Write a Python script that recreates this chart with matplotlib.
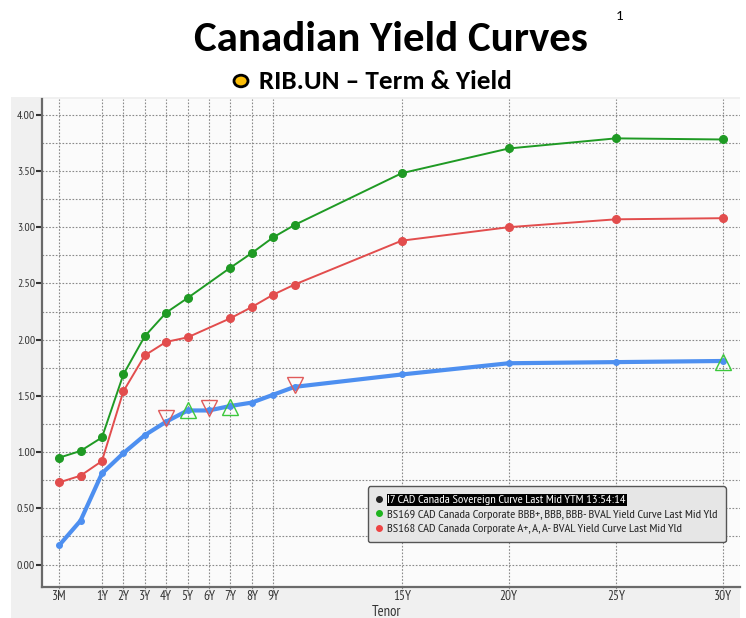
import numpy as np
import matplotlib
matplotlib.use("Agg")
import matplotlib.pyplot as plt
from matplotlib.patches import Rectangle, Circle
from matplotlib import font_manager
import matplotlib.transforms as mtransforms

# ---------------- data ----------------
tenor_years = [0.25, 0.5, 1, 2, 3, 4, 5, 7, 8, 9, 10, 15, 20, 25, 30]
bbb_yield = [0.95, 1.01, 1.13, 1.69, 2.03, 2.24, 2.37, 2.64, 2.77, 2.91, 3.02, 3.48, 3.70, 3.79, 3.78]
a_yield = [0.73, 0.79, 0.92, 1.54, 1.86, 1.98, 2.02, 2.19, 2.29, 2.40, 2.49, 2.88, 3.00, 3.07, 3.08]

sov_tenor = [0.25, 0.5, 1, 2, 3, 4, 5, 6, 7, 8, 9, 10, 15, 20, 25, 30]
sov_yield = [0.17, 0.39, 0.81, 0.99, 1.15, 1.27, 1.37, 1.37, 1.41, 1.44, 1.51, 1.58, 1.69, 1.79, 1.80, 1.81]

a_bond_tenor = [4, 6, 10]
a_bond_yield = [1.30, 1.39, 1.60]
bbb_bond_tenor = [5, 7, 30]
bbb_bond_yield = [1.37, 1.40, 1.80]

tick_years = [0.25, 1, 2, 3, 4, 5, 6, 7, 8, 9, 15, 20, 25, 30]
tick_labels = ['3M', '1Y', '2Y', '3Y', '4Y', '5Y', '6Y', '7Y', '8Y', '9Y', '15Y', '20Y', '25Y', '30Y']

legend_labels = ['I7 CAD Canada Sovereign Curve Last Mid YTM 13:54:14',
                 'BS169 CAD Canada Corporate BBB+, BBB, BBB- BVAL Yield Curve Last Mid Yld',
                 'BS168 CAD Canada Corporate A+, A, A- BVAL Yield Curve Last Mid Yld']

title = 'Canadian Yield Curves'
subtitle = 'RIB.UN \u2013 Term & Yield'

# ---------------- styling ----------------
GREEN = '#1f9a24'
RED = '#e24d4d'
BLUE = '#4d8ff0'

available = {f.name for f in font_manager.fontManager.ttflist}


def pick(prefs, default):
    for p in prefs:
        if p in available:
            return p
    return default


NARROW = pick(['PT Sans Narrow', 'Roboto Condensed', 'Fira Sans Condensed', 'Archivo Narrow',
               'IBM Plex Sans Condensed', 'Encode Sans Condensed', 'Barlow Semi Condensed',
               'Open Sans Condensed', 'Liberation Sans Narrow', 'Pragati Narrow'], 'DejaVu Sans')
TITLEF = pick(['Carlito', 'Calibri', 'Lato'], 'DejaVu Sans')
TICK_FONT = [NARROW, 'DejaVu Sans']
TITLE_FONT = [TITLEF, 'DejaVu Sans']


def fwd(t):
    t = np.asarray(t, dtype=float)
    return np.where(t < 1, np.log2(np.maximum(t, 1e-9)) + 1, t)


def inv(p):
    p = np.asarray(p, dtype=float)
    return np.where(p < 1, 2.0 ** (np.minimum(p, 1) - 1), p)


fig = plt.figure(figsize=(7.46, 6.18), dpi=100)
fig.patch.set_facecolor('white')
renderer = fig.canvas.get_renderer()


def fit_size(text, family, weight, target_px, base=10.0):
    t = fig.text(0, 0, text, fontsize=base, family=family, fontweight=weight)
    w = t.get_window_extent(renderer).width
    t.remove()
    return base * target_px / w


# gray chart panel
fig.patches.append(Rectangle((11 / 746, 0), (740 - 11) / 746, 1 - 97 / 618,
                             transform=fig.transFigure, facecolor='#f0f0f0',
                             edgecolor='none', zorder=-5))

ax = fig.add_axes([42 / 746, 1 - 587 / 618, (740 - 42) / 746, (587 - 99) / 618])
ax.set_zorder(2)
ax.set_facecolor('#fbfbfb')
ax.set_xscale('function', functions=(fwd, inv))
ax.set_xlim(2.0 ** (-2.8), 30.8)
ax.set_ylim(-0.2, 4.14)

# grid
ax.set_yticks(np.arange(0, 4.01, 0.5))
ax.set_yticks(np.arange(0.25, 4.01, 0.5), minor=True)
ax.set_yticklabels(['%.2f' % v for v in np.arange(0, 4.01, 0.5)])
ax.set_xticks(tick_years)
ax.set_xticklabels(tick_labels)
ax.xaxis.set_minor_locator(matplotlib.ticker.NullLocator())
ax.grid(True, which='major', axis='both', color='#8a8a8a', linestyle=(0, (1.5, 1.5)), linewidth=0.8)
ax.grid(True, which='minor', axis='y', color='#8a8a8a', linestyle=(0, (1.5, 1.5)), linewidth=0.8)
ax.set_axisbelow(True)

# extend vertical grid below axis
trans = mtransforms.blended_transform_factory(ax.transData, ax.transAxes)
for xv in tick_years:
    ax.plot([xv, xv], [0, -0.018], transform=trans, color='#8a8a8a',
            linestyle=(0, (1.5, 1.5)), linewidth=0.8, clip_on=False)

for s in ['top', 'right']:
    ax.spines[s].set_visible(False)
for s in ['left', 'bottom']:
    ax.spines[s].set_color('#6a6a6a')
    ax.spines[s].set_linewidth(1.6)

ytick_size = min(max(fit_size('4.00', TICK_FONT, 'normal', 18), 8.5), 10)
xtick_size = 9.5
ax.tick_params(axis='y', which='major', direction='out', length=4, width=1.5, color='#333333',
               labelsize=ytick_size, labelcolor='#333333', pad=1)
ax.tick_params(axis='y', which='minor', length=0)
ax.tick_params(axis='x', which='major', length=0, labelsize=xtick_size, labelcolor='#333333', pad=2.5)
for lab in ax.get_xticklabels() + ax.get_yticklabels():
    lab.set_family(TICK_FONT)

ax.set_xlabel('Tenor', fontsize=10.5, color='#333333', family=TICK_FONT)
ax.xaxis.set_label_coords((386 - 42) / 698, -(604.5 - 587) / 488)

# series
h_sov, = ax.plot(sov_tenor, sov_yield, color=BLUE, linewidth=3.0, marker='o',
                 markersize=4, zorder=4, solid_capstyle='round')
h_bbb, = ax.plot(tenor_years, bbb_yield, color=GREEN, linewidth=1.4, marker='o',
                 markersize=5.5, zorder=3)
h_a, = ax.plot(tenor_years, a_yield, color=RED, linewidth=1.4, marker='o',
               markersize=5.5, zorder=3)

ax.plot(a_bond_tenor, a_bond_yield, linestyle='none', marker='v', markersize=11,
        markerfacecolor='none', markeredgecolor='#e05a5a', markeredgewidth=1.0, zorder=5)
ax.plot(bbb_bond_tenor, bbb_bond_yield, linestyle='none', marker='^', markersize=11,
        markerfacecolor='none', markeredgecolor='#3cc83c', markeredgewidth=1.0, zorder=5)

# legend
leg_size = min(fit_size(legend_labels[1], TICK_FONT, 'normal', 331), 10.5)
hb = ax.plot([], [], linestyle='none', marker='o', markersize=4, color='#222222')[0]
hg = ax.plot([], [], linestyle='none', marker='o', markersize=4, color='#1fb41f')[0]
hr = ax.plot([], [], linestyle='none', marker='o', markersize=4, color='#ee4444')[0]
leg = ax.legend([hb, hg, hr], legend_labels, loc='lower left',
                bbox_to_anchor=(0.467, 0.092), prop={'family': TICK_FONT, 'size': leg_size},
                frameon=True, fancybox=True, facecolor='#e6e6e6', edgecolor='#555555',
                framealpha=1, handlelength=0.5, handletextpad=0.4, labelspacing=0.3,
                borderpad=0.65, borderaxespad=0)
leg.get_frame().set_linewidth(1.0)
t0 = leg.get_texts()[0]
t0.set_color('white')
t0.set_bbox(dict(facecolor='black', edgecolor='none', pad=0.5))
for t in leg.get_texts()[1:]:
    t.set_color('#222222')

# titles
title_size = fit_size(title, TITLE_FONT, 'bold', 393)
fig.text(391 / 746, 1 - 51 / 618, title, ha='center', va='baseline', fontsize=title_size,
         fontweight='bold', family=TITLE_FONT, color='black')
fig.text(620 / 746, 1 - 20 / 618, '1', ha='center', va='baseline', fontsize=11,
         family=TITLE_FONT, color='black')
sub_size = fit_size(subtitle, TITLE_FONT, 'bold', 252)
fig.text(259 / 746, 1 - 89 / 618, subtitle, ha='left', va='baseline', fontsize=sub_size,
         fontweight='bold', family=TITLE_FONT, color='black')
circ = Circle((241 / 746, 1 - 81 / 618), 7 / 746, transform=fig.transFigure,
              facecolor='#fbbd08', edgecolor='black', linewidth=2.0)
fig.patches.append(circ)

fig.savefig('out.png', dpi=100)
